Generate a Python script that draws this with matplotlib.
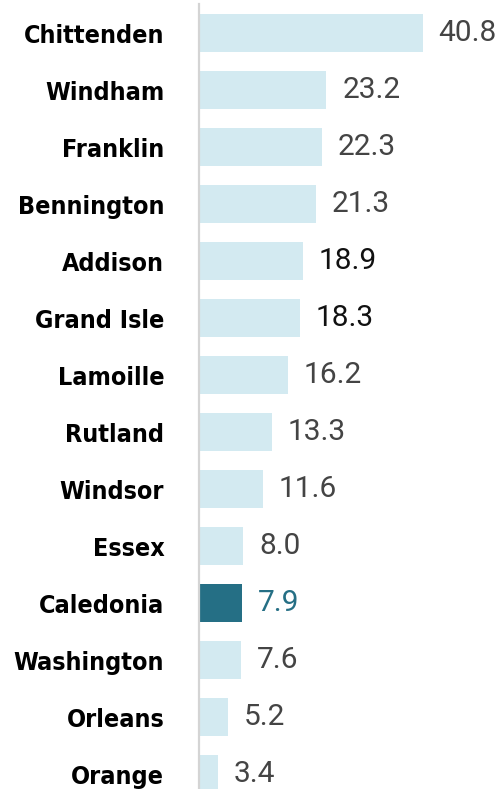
import matplotlib.pyplot as plt

counties = ['Chittenden', 'Windham', 'Franklin', 'Bennington', 'Addison',
            'Grand Isle', 'Lamoille', 'Rutland', 'Windsor', 'Essex',
            'Caledonia', 'Washington', 'Orleans', 'Orange']
values = [40.8, 23.2, 22.3, 21.3, 18.9, 18.3, 16.2, 13.3, 11.6, 8.0,
          7.9, 7.6, 5.2, 3.4]
highlight = 'Caledonia'

light = '#d3eaf1'
dark = '#256f85'

fig = plt.figure(figsize=(4.99, 7.89), dpi=100, facecolor='white')
ax = fig.add_axes([199 / 499, 0, 300 / 499, 1])

ypos = list(range(len(counties)))
colors = [dark if c == highlight else light for c in counties]
ax.barh(ypos, values, height=0.667, color=colors, left=0)

ax.set_xlim(0, 54.6)
ax.set_ylim(13.263, -0.579)

for s in ['top', 'right', 'bottom']:
    ax.spines[s].set_visible(False)
ax.spines['left'].set_color('#d4d4d4')
ax.spines['left'].set_linewidth(1.6)
ax.spines['left'].set_bounds(-0.51, 13.263)
ax.set_xticks([])
ax.set_yticks(ypos)
ax.set_yticklabels(counties, family='DejaVu Sans', fontstretch='condensed',
                   fontweight='bold', fontsize=18, color='black')
ax.tick_params(axis='y', length=0, pad=25)

for i, (c, v) in enumerate(zip(counties, values)):
    col = '#444444'
    if c == highlight:
        col = dark
    elif v in (18.9, 18.3):
        col = '#111111'
    if v == max(values):
        ax.text(0.99, i, f'{v:.1f}', transform=ax.get_yaxis_transform(),
                ha='right', va='center', fontsize=21.5, color=col, family='Roboto')
    else:
        ax.text(v + 2.9, i, f'{v:.1f}', ha='left', va='center',
                fontsize=21.5, color=col, family='Roboto')

fig.savefig('out.png', dpi=100, facecolor='white')
